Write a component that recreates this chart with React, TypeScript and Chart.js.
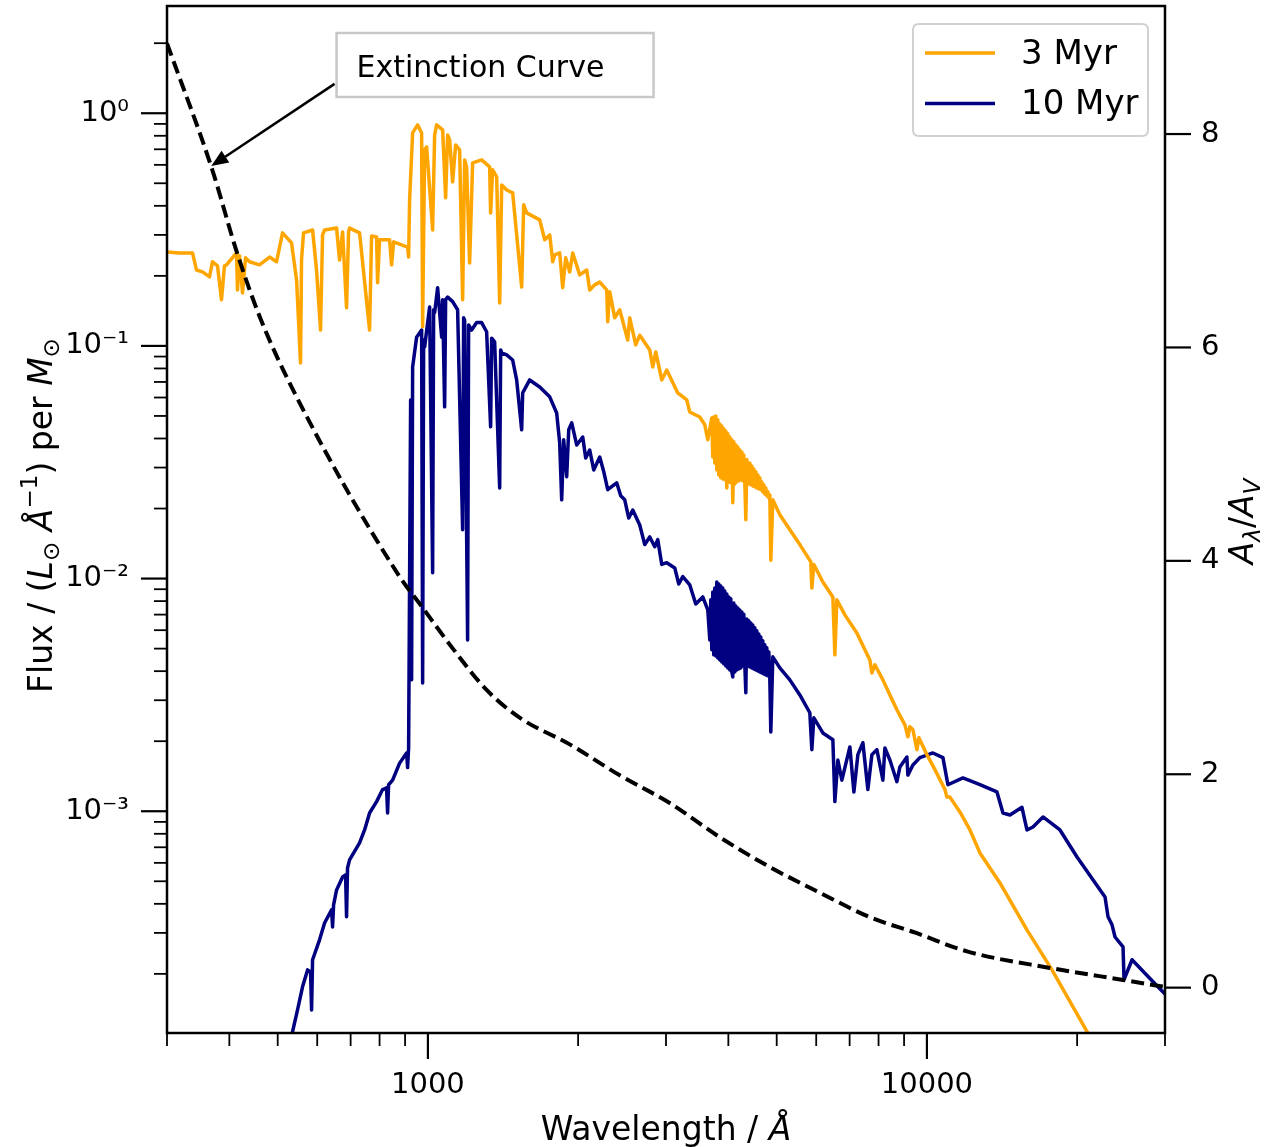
import React, { useEffect, useRef } from 'react';
import { Chart, registerables } from 'chart.js';

Chart.register(...registerables);

const FONT = '"DejaVu Sans", "Liberation Sans", Arial, sans-serif';

// ---------------- axis ranges & ticks ----------------
const wavelengthRange = [300, 30000];
const fluxRange = [1.114e-4, 2.89];
const extinctionRange = [-0.425, 9.2];

const xTickValues = [300, 400, 500, 600, 700, 800, 900, 1000, 2000, 3000, 4000, 5000, 6000, 7000, 8000, 9000, 10000, 20000, 30000];
const xMajorValues = [1000, 10000];
const xMajorLabels = ['1000', '10000'];

const yTickValues = [
  0.0002, 0.0003, 0.0004, 0.0005, 0.0006, 0.0007, 0.0008, 0.0009,
  0.001, 0.002, 0.003, 0.004, 0.005, 0.006, 0.007, 0.008, 0.009,
  0.01, 0.02, 0.03, 0.04, 0.05, 0.06, 0.07, 0.08, 0.09,
  0.1, 0.2, 0.3, 0.4, 0.5, 0.6, 0.7, 0.8, 0.9,
  1, 2,
];
const yMajorValues = [0.001, 0.01, 0.1, 1];
const yMajorLabels = ['10\u207B\u00B3', '10\u207B\u00B2', '10\u207B\u00B9', '10\u2070'];

const extTickValues = [0, 2, 4, 6, 8];

// ---------------- series: [wavelength (Å), value] ----------------
const sed3Myr: [number, number][] = [
  [300, 0.253], [317.8, 0.251], [337.5, 0.251], [343.7, 0.212], [353.4, 0.208], [365.0, 0.198],
  [370.1, 0.230], [378.7, 0.221], [385.8, 0.158], [391.1, 0.221], [394.8, 0.223], [413.5, 0.251],
  [415.3, 0.174], [419.2, 0.244], [425.1, 0.169], [431.0, 0.239], [439.0, 0.230], [459.8, 0.223],
  [481.5, 0.241], [497.3, 0.230], [511.3, 0.306], [533.0, 0.277], [545.5, 0.192], [555.5, 0.0845],
  [558.1, 0.234], [563.3, 0.306], [587.3, 0.315], [598.1, 0.212], [609.3, 0.117], [615.0, 0.300],
  [620.7, 0.315], [656.1, 0.321], [665.2, 0.234], [674.5, 0.309], [687.0, 0.146], [693.4, 0.309],
  [696.6, 0.321], [729.5, 0.306], [764.0, 0.117], [771.1, 0.297], [789.1, 0.294], [792.7, 0.187],
  [800.1, 0.286], [837.9, 0.286], [845.7, 0.223], [853.6, 0.280], [910.5, 0.266], [914.8, 0.241],
  [919.0, 0.424], [931.9, 0.823], [953.5, 0.891], [971.4, 0.823], [975.9, 0.121], [984.9, 0.696],
  [994.1, 0.717], [1022, 0.315], [1031.5, 0.807], [1041.1, 0.891], [1070.3, 0.848], [1085.2, 0.433],
  [1095.2, 0.807], [1105.4, 0.768], [1120.9, 0.507], [1136.5, 0.731], [1157.6, 0.696], [1173.8, 0.158],
  [1184.7, 0.630], [1195.5, 0.588], [1212.2, 0.227], [1229.2, 0.612], [1281.4, 0.630], [1329.5, 0.588],
  [1335.6, 0.373], [1348.1, 0.571], [1373.3, 0.533], [1392.5, 0.153], [1405.5, 0.492], [1438.3, 0.468],
  [1478.5, 0.455], [1541.3, 0.179], [1555.7, 0.404], [1577.2, 0.373], [1674.9, 0.348], [1714.1, 0.286],
  [1754.2, 0.300], [1778.8, 0.230], [1795.2, 0.246], [1836.8, 0.251], [1862.5, 0.178], [1888.4, 0.239],
  [1923.8, 0.208], [1950.7, 0.251], [2014.6, 0.202], [2080.9, 0.212], [2109.8, 0.174], [2159.2, 0.183],
  [2209.8, 0.188], [2282, 0.174], [2292.6, 0.127], [2313.9, 0.171], [2368, 0.132], [2423.2, 0.143],
  [2514.4, 0.106], [2537.8, 0.132], [2609.1, 0.101], [2657.6, 0.111], [2783.4, 0.0961], [2822.4, 0.0812],
  [2861.6, 0.0942], [2941.9, 0.0714], [3010.5, 0.0788], [3167.3, 0.0628], [3301.7, 0.0586], [3347.9, 0.0520],
  [3506, 0.0495], [3588, 0.0458], [3637.8, 0.0395],
  [3705.7, 0.0490], [3722.8, 0.0333], [3740.1, 0.0495], [3757.4, 0.0314], [3774.8, 0.0500], [3792.3, 0.0293],
  [3809.8, 0.0481], [3827.5, 0.0279], [3845.1, 0.0462], [3862.9, 0.0271], [3880.8, 0.0453], [3898.8, 0.0268],
  [3916.8, 0.0440], [3934.9, 0.0266], [3953.1, 0.0431], [3971.4, 0.0245], [3989.8, 0.0419], [4008.3, 0.0260],
  [4026.9, 0.0406], [4045.5, 0.0258], [4064.3, 0.0395], [4083.1, 0.0212], [4102.0, 0.0387], [4121.0, 0.0255],
  [4140.1, 0.0375], [4159.2, 0.0260], [4178.5, 0.0368], [4197.8, 0.0263], [4217.2, 0.0357], [4236.7, 0.0266],
  [4256.3, 0.0350], [4276.0, 0.0263], [4295.8, 0.0340], [4315.7, 0.0260], [4335.7, 0.0179], [4355.8, 0.0325],
  [4396.2, 0.0255], [4416.6, 0.0314], [4437.0, 0.0253], [4457.6, 0.0305], [4478.2, 0.0250], [4498.9, 0.0296],
  [4519.8, 0.0248], [4540.7, 0.0288], [4561.7, 0.0245], [4582.8, 0.0279], [4604.0, 0.0243], [4624.9, 0.0271],
  [4646.3, 0.0241], [4667.8, 0.0260], [4689.4, 0.0236], [4711.1, 0.0253], [4732.9, 0.0231], [4754.8, 0.0245],
  [4776.8, 0.0227], [4798.9, 0.0236], [4821.1, 0.0222], [4843.4, 0.0229], [4865.8, 0.0120], [4911.2, 0.0218],
  [5072.5, 0.0188], [5312.6, 0.0162], [5563.2, 0.0140],
  [5852.6, 0.0118], [5880, 0.00911], [5934.7, 0.0115], [6186.8, 0.00967], [6479.2, 0.00834], [6539.2, 0.00470],
  [6599.9, 0.00810], [6848.6, 0.00698], [7238, 0.00584], [7511, 0.00494], [7685.5, 0.00447], [7757, 0.00393],
  [7865, 0.00426], [8161.6, 0.00367], [8429.4, 0.00316], [8706.3, 0.00273], [9034.8, 0.00235], [9160, 0.00209],
  [9244.9, 0.00231], [9374.3, 0.00224], [9548, 0.00184], [9637.4, 0.00207], [9999, 0.00175], [10376, 0.00151],
  [10866, 0.00124], [10967, 0.00115], [11120, 0.00115], [11645, 0.000993], [12196, 0.000831], [12772, 0.000662],
  [14008, 0.000492], [15866, 0.000309], [17809, 0.000208], [20935, 0.000113], [23278, 0.000075],
];

const sed10Myr: [number, number][] = [
  [530.5, 0.000099], [535.5, 0.000113], [547.9, 0.000140], [560.7, 0.000176], [573.9, 0.000208], [581.9, 0.000204],
  [584.6, 0.000140], [587.3, 0.000230], [606.5, 0.000280], [620.7, 0.000331], [641.1, 0.000377], [644.1, 0.000318],
  [647.1, 0.000396], [656.1, 0.000459], [674.5, 0.000522], [683.9, 0.000533], [687.0, 0.000352], [690.2, 0.000571],
  [696.6, 0.000618], [729.5, 0.000731], [746.6, 0.000831], [764.0, 0.000983], [789.1, 0.00110], [811.3, 0.00124],
  [826.3, 0.00126], [830.2, 0.000983], [834.1, 0.00130], [849.6, 0.00136], [877.6, 0.00161], [906.3, 0.00178],
  [910.5, 0.00154], [914.8, 0.00187], [923.3, 0.0586], [927.5, 0.00367], [931.9, 0.0812], [949.1, 0.109],
  [971.4, 0.117], [975.9, 0.00356], [980.4, 0.106], [984.9, 0.0990], [1007.9, 0.147], [1022, 0.0106],
  [1026.7, 0.143], [1031.5, 0.139], [1045.8, 0.178], [1065.3, 0.109], [1070.3, 0.158], [1080.2, 0.0547],
  [1085.2, 0.158], [1095.2, 0.162], [1120.9, 0.155], [1146.9, 0.143], [1173.8, 0.0162], [1179.2, 0.132],
  [1184.7, 0.129], [1201, 0.00545], [1206.6, 0.123], [1223.5, 0.117], [1252.1, 0.126], [1281.4, 0.126],
  [1311.1, 0.115], [1335.6, 0.0449], [1341.9, 0.108], [1360.6, 0.104], [1392.5, 0.0245], [1398.9, 0.0961],
  [1405.5, 0.0933], [1438.3, 0.0915], [1478.5, 0.0870], [1506, 0.0714], [1541.3, 0.0436], [1548.5, 0.0628],
  [1599.3, 0.0714], [1674.9, 0.0666], [1754.2, 0.0604], [1811.4, 0.0515], [1836.8, 0.0383], [1853.9, 0.0218],
  [1871.1, 0.0395], [1897.2, 0.0274], [1915, 0.0436], [1941.7, 0.0467], [1987.1, 0.0375], [2042.8, 0.0406],
  [2071.2, 0.0330], [2109.8, 0.0357], [2149.3, 0.0293], [2209.8, 0.0333], [2251.1, 0.0288], [2292.6, 0.0241],
  [2389.7, 0.0258], [2434.3, 0.0227], [2479.8, 0.0218], [2526.2, 0.0182], [2573.3, 0.0197], [2657.6, 0.0170],
  [2719.8, 0.0140], [2783.4, 0.0151], [2848.5, 0.0137], [2887.9, 0.0147], [2941.9, 0.0115], [3010.5, 0.0117],
  [3123.7, 0.0111], [3182.2, 0.00948], [3241.6, 0.0102], [3347.9, 0.00939], [3442, 0.00778], [3555, 0.00834],
  [3637.8, 0.00733],
  [3671.6, 0.00545], [3688.6, 0.00810], [3705.7, 0.00494], [3722.8, 0.00876], [3740.1, 0.00470], [3757.4, 0.00911],
  [3774.8, 0.00465], [3792.3, 0.00967], [3809.8, 0.00456], [3827.5, 0.00948], [3845.1, 0.00447], [3862.9, 0.00930],
  [3880.8, 0.00438], [3898.8, 0.00911], [3916.8, 0.00430], [3934.9, 0.00885], [3953.1, 0.00421], [3971.4, 0.00859],
  [3989.8, 0.00413], [4008.3, 0.00834], [4026.9, 0.00405], [4045.5, 0.00818], [4064.3, 0.00397], [4083.1, 0.00378],
  [4102.0, 0.00786], [4121.0, 0.00397], [4140.1, 0.00763], [4159.2, 0.00405], [4178.5, 0.00748], [4197.8, 0.00409],
  [4217.2, 0.00733], [4236.7, 0.00413], [4256.3, 0.00719], [4276.0, 0.00421], [4295.8, 0.00702], [4315.7, 0.00426],
  [4335.7, 0.00323], [4355.8, 0.00671], [4376.0, 0.00421], [4396.2, 0.00658], [4416.6, 0.00417], [4437.0, 0.00645],
  [4457.6, 0.00413], [4478.2, 0.00632], [4498.9, 0.00409], [4519.8, 0.00614], [4540.7, 0.00405], [4561.7, 0.00596],
  [4582.8, 0.00401], [4604.0, 0.00578], [4624.9, 0.00397], [4646.3, 0.00561], [4667.8, 0.00393], [4689.4, 0.00540],
  [4711.1, 0.00389], [4732.9, 0.00519], [4754.8, 0.00385], [4776.8, 0.00504], [4798.9, 0.00382], [4821.1, 0.00484],
  [4843.4, 0.00374], [4865.8, 0.00219], [4911.2, 0.00461],
  [5072.5, 0.00413], [5312.6, 0.00367], [5563.2, 0.00316],
  [5825.8, 0.00265], [5880, 0.00184], [5934.7, 0.00252], [6186.8, 0.00217], [6479.2, 0.00203], [6539.2, 0.00110],
  [6630.3, 0.00166], [6754.2, 0.00136], [7008.1, 0.00189], [7139.2, 0.00121], [7271.7, 0.00175], [7442.1, 0.00197],
  [7614.7, 0.00124], [7757, 0.00175], [7938.4, 0.00184], [8161.6, 0.00136], [8237.3, 0.00187], [8429.4, 0.00166],
  [8706.3, 0.00134], [8828.2, 0.00155], [9117.3, 0.00171], [9160, 0.00143], [9374.3, 0.00158], [9681.7, 0.00170],
  [10281, 0.00178], [10767, 0.00170], [11018, 0.00130], [11808, 0.00139], [12772, 0.00130], [13815, 0.00121],
  [14204, 0.000983], [14669, 0.000964], [15505, 0.00104], [15866, 0.000831], [16313, 0.000856], [17085, 0.000945],
  [18478, 0.000831], [19990, 0.000636], [22748, 0.000428], [23064, 0.000352], [23494, 0.000325], [23823, 0.000288],
  [24718, 0.000261], [24833, 0.000189], [25768, 0.000230], [28392, 0.000185], [30000, 0.000164],
];

const extinctionCurve: [number, number][] = [
  [300, 8.85], [370, 7.66], [413, 6.91], [460, 6.29], [545, 5.54], [878, 3.85], [962, 3.60],
  [1121, 3.18], [1311, 2.79], [1527, 2.53], [1924, 2.28], [2424, 1.99], [3052, 1.73], [3845, 1.41],
  [4845, 1.13], [6101, 0.89], [7687, 0.66], [9548, 0.51], [12030, 0.34], [17640, 0.185], [24720, 0.072],
  [30000, 0.007],
];

// annotation anchors (data coordinates: wavelength, A_lambda/A_V)
const annotationText = 'Extinction Curve';
const annotationBoxAnchor = [656, 8.947];
const annotationArrowFrom = [650, 8.47];
const annotationArrowTo = [368, 7.70];

const seriesLabels = ['3 Myr', '10 Myr'];
const seriesColors = ['#FFA500', '#000080'];

// ---------------- drawing helpers ----------------
type Seg = { t: string; it?: boolean; sc?: number; dy?: number };

function drawRich(ctx: CanvasRenderingContext2D, segs: Seg[], x: number, y: number, rot: number, size: number) {
  ctx.save();
  ctx.translate(x, y);
  ctx.rotate(rot);
  ctx.textBaseline = 'alphabetic';
  ctx.textAlign = 'left';
  ctx.fillStyle = '#000';
  const fontOf = (s: Seg) => `${s.it ? 'italic ' : ''}${size * (s.sc ?? 1)}px ${FONT}`;
  const widths = segs.map((s) => {
    ctx.font = fontOf(s);
    return ctx.measureText(s.t).width;
  });
  const total = widths.reduce((a, b) => a + b, 0);
  let cx = -total / 2;
  segs.forEach((s, i) => {
    ctx.font = fontOf(s);
    ctx.fillText(s.t, cx, -(s.dy ?? 0) * size);
    cx += widths[i];
  });
  ctx.restore();
}

function roundRectPath(ctx: CanvasRenderingContext2D, x: number, y: number, w: number, h: number, r: number) {
  ctx.beginPath();
  ctx.moveTo(x + r, y);
  ctx.lineTo(x + w - r, y);
  ctx.quadraticCurveTo(x + w, y, x + w, y + r);
  ctx.lineTo(x + w, y + h - r);
  ctx.quadraticCurveTo(x + w, y + h, x + w - r, y + h);
  ctx.lineTo(x + r, y + h);
  ctx.quadraticCurveTo(x, y + h, x, y + h - r);
  ctx.lineTo(x, y + r);
  ctx.quadraticCurveTo(x, y, x + r, y);
  ctx.closePath();
}

const decorPlugin = {
  id: 'decor',
  afterDatasetsDraw(chart: any) {
    const { ctx, chartArea: a, scales } = chart;
    const xs = scales.x;
    const ys = scales.y;
    const y1 = scales.y1;
    ctx.save();
    ctx.strokeStyle = '#000';
    ctx.lineCap = 'butt';
    const tick = (x1: number, yA: number, x2: number, yB: number, w: number) => {
      ctx.lineWidth = w;
      ctx.beginPath();
      ctx.moveTo(x1, yA);
      ctx.lineTo(x2, yB);
      ctx.stroke();
    };
    xTickValues.forEach((v) => {
      const p = xs.getPixelForValue(v);
      const maj = xMajorValues.includes(v);
      tick(p, a.bottom, p, a.bottom + (maj ? 26 : 13), maj ? 2.2 : 1.8);
    });
    yTickValues.forEach((v) => {
      const p = ys.getPixelForValue(v);
      const maj = yMajorValues.includes(v);
      tick(a.left, p, a.left - (maj ? 26 : 13), p, maj ? 2.2 : 1.8);
    });
    extTickValues.forEach((v) => {
      const p = y1.getPixelForValue(v);
      tick(a.right, p, a.right + 26, p, 2.2);
    });
    // frame
    ctx.lineWidth = 2.5;
    ctx.strokeRect(a.left, a.top, a.right - a.left, a.bottom - a.top);
    ctx.restore();
  },
  afterDraw(chart: any) {
    const { ctx, chartArea: a, scales } = chart;
    const xs = scales.x;
    const y1 = scales.y1;
    ctx.save();

    // ----- annotation box + arrow -----
    const bx = xs.getPixelForValue(annotationBoxAnchor[0]);
    const by = y1.getPixelForValue(annotationBoxAnchor[1]);
    const bw = 317;
    const bh = 64;
    ctx.fillStyle = '#ffffff';
    ctx.fillRect(bx, by, bw, bh);
    ctx.strokeStyle = '#c8c8c8';
    ctx.lineWidth = 2.5;
    ctx.strokeRect(bx, by, bw, bh);
    ctx.fillStyle = '#000';
    ctx.font = `30px ${FONT}`;
    ctx.textBaseline = 'middle';
    ctx.textAlign = 'left';
    ctx.fillText(annotationText, bx + 20, by + bh / 2 + 4);

    const sx = xs.getPixelForValue(annotationArrowFrom[0]);
    const sy = y1.getPixelForValue(annotationArrowFrom[1]);
    const tx = xs.getPixelForValue(annotationArrowTo[0]);
    const ty = y1.getPixelForValue(annotationArrowTo[1]);
    const ang = Math.atan2(ty - sy, tx - sx);
    const hl = 17;
    const hw = 7;
    const c = Math.cos(ang);
    const s = Math.sin(ang);
    ctx.strokeStyle = '#000';
    ctx.lineWidth = 2.5;
    ctx.beginPath();
    ctx.moveTo(sx, sy);
    ctx.lineTo(tx - hl * 0.8 * c, ty - hl * 0.8 * s);
    ctx.stroke();
    ctx.fillStyle = '#000';
    ctx.beginPath();
    ctx.moveTo(tx, ty);
    ctx.lineTo(tx - hl * c + hw * s, ty - hl * s - hw * c);
    ctx.lineTo(tx - hl * c - hw * s, ty - hl * s + hw * c);
    ctx.closePath();
    ctx.fill();

    // ----- legend -----
    const lw = 235;
    const lh = 112;
    const lx = a.right - 17 - lw;
    const ly = a.top + 18;
    roundRectPath(ctx, lx, ly, lw, lh, 6);
    ctx.fillStyle = 'rgba(255,255,255,0.8)';
    ctx.fill();
    ctx.strokeStyle = 'rgba(204,204,204,0.9)';
    ctx.lineWidth = 2;
    ctx.stroke();
    seriesLabels.forEach((lab, i) => {
      const yy = ly + 29 + i * 50.5;
      ctx.strokeStyle = seriesColors[i];
      ctx.lineWidth = 3.5;
      ctx.beginPath();
      ctx.moveTo(lx + 12, yy);
      ctx.lineTo(lx + 82, yy);
      ctx.stroke();
      ctx.fillStyle = '#000';
      ctx.font = `34px ${FONT}`;
      ctx.textBaseline = 'middle';
      ctx.textAlign = 'left';
      ctx.fillText(lab, lx + 108, yy + 2);
    });

    // ----- axis titles -----
    const cy = (a.top + a.bottom) / 2;
    drawRich(
      ctx,
      [
        { t: 'Flux / (' },
        { t: 'L', it: true },
        { t: '\u2299', sc: 0.7, dy: -0.2 },
        { t: ' ' },
        { t: '\u00C5', it: true },
        { t: '\u22121', sc: 0.7, dy: 0.45 },
        { t: ') per ' },
        { t: 'M', it: true },
        { t: '\u2299', sc: 0.7, dy: -0.2 },
      ],
      52,
      cy - 4,
      -Math.PI / 2,
      33
    );
    drawRich(
      ctx,
      [
        { t: 'A', it: true },
        { t: '\u03BB', it: true, sc: 0.7, dy: -0.2 },
        { t: '/' },
        { t: 'A', it: true },
        { t: 'V', it: true, sc: 0.7, dy: -0.2 },
      ],
      a.right + 88,
      cy + 2,
      -Math.PI / 2,
      33
    );
    drawRich(ctx, [{ t: 'Wavelength / ' }, { t: '\u00C5', it: true }], (a.left + a.right) / 2, a.bottom + 107, 0, 33);
    ctx.restore();
  },
};

const tickFont = { family: FONT, size: 29 };

function zeroPad(s: any) {
  s.paddingTop = 0;
  s.paddingBottom = 0;
  s.paddingLeft = 0;
  s.paddingRight = 0;
}

export default function App() {
  const ref = useRef<HTMLCanvasElement>(null);
  useEffect(() => {
    const canvas = ref.current;
    if (!canvas) return;
    const chart = new Chart(canvas, {
      type: 'line',
      data: {
        datasets: [
          {
            label: annotationText,
            data: extinctionCurve.map(([x, y]) => ({ x, y })),
            yAxisID: 'y1',
            borderColor: '#000',
            borderWidth: 4,
            borderDash: [13, 6],
            borderCapStyle: 'butt',
            pointRadius: 0,
            cubicInterpolationMode: 'monotone',
            fill: false,
          },
          {
            label: seriesLabels[0],
            data: sed3Myr.map(([x, y]) => ({ x, y })),
            yAxisID: 'y',
            borderColor: seriesColors[0],
            borderWidth: 3.5,
            borderJoinStyle: 'round',
            borderCapStyle: 'round',
            pointRadius: 0,
            tension: 0,
            fill: false,
          },
          {
            label: seriesLabels[1],
            data: sed10Myr.map(([x, y]) => ({ x, y })),
            yAxisID: 'y',
            borderColor: seriesColors[1],
            borderWidth: 3.5,
            borderJoinStyle: 'round',
            borderCapStyle: 'round',
            pointRadius: 0,
            tension: 0,
            fill: false,
          },
        ],
      } as any,
      options: {
        responsive: false,
        maintainAspectRatio: false,
        devicePixelRatio: 1,
        animation: false,
        events: [],
        layout: { padding: { top: 6, left: 0, right: 0, bottom: 0 } },
        plugins: { legend: { display: false }, tooltip: { enabled: false }, title: { display: false } },
        scales: {
          x: {
            type: 'logarithmic',
            min: wavelengthRange[0],
            max: wavelengthRange[1],
            afterBuildTicks: (s: any) => {
              s.ticks = xTickValues.map((v) => ({ value: v }));
            },
            afterFit: (s: any) => {
              s.height = 114;
              zeroPad(s);
            },
            ticks: {
              autoSkip: false,
              maxRotation: 0,
              minRotation: 0,
              padding: 35,
              color: '#000',
              font: tickFont,
              callback: (v: any) => {
                const i = xMajorValues.indexOf(Number(v));
                return i >= 0 ? xMajorLabels[i] : '';
              },
            },
            grid: { display: false, drawTicks: false },
            border: { display: false },
          },
          y: {
            type: 'logarithmic',
            position: 'left',
            min: fluxRange[0],
            max: fluxRange[1],
            afterBuildTicks: (s: any) => {
              s.ticks = yTickValues.map((v) => ({ value: v }));
            },
            afterFit: (s: any) => {
              s.width = 167;
              zeroPad(s);
            },
            ticks: {
              autoSkip: false,
              padding: 38,
              color: '#000',
              font: tickFont,
              callback: (v: any) => {
                const i = yMajorValues.indexOf(Number(v));
                return i >= 0 ? yMajorLabels[i] : '';
              },
            },
            grid: { display: false, drawTicks: false },
            border: { display: false },
          },
          y1: {
            type: 'linear',
            position: 'right',
            min: extinctionRange[0],
            max: extinctionRange[1],
            afterBuildTicks: (s: any) => {
              s.ticks = extTickValues.map((v) => ({ value: v }));
            },
            afterFit: (s: any) => {
              s.width = 116;
              zeroPad(s);
            },
            ticks: {
              autoSkip: false,
              padding: 36,
              color: '#000',
              font: tickFont,
              callback: (v: any) => String(v),
            },
            grid: { display: false, drawTicks: false },
            border: { display: false },
          },
        },
      } as any,
      plugins: [decorPlugin],
    });
    return () => chart.destroy();
  }, []);

  return (
    <div style={{ position: 'absolute', left: 0, top: 0, width: 1281, height: 1147, background: '#fff' }}>
      <canvas ref={ref} width={1281} height={1147} style={{ display: 'block', width: 1281, height: 1147 }} />
    </div>
  );
}
